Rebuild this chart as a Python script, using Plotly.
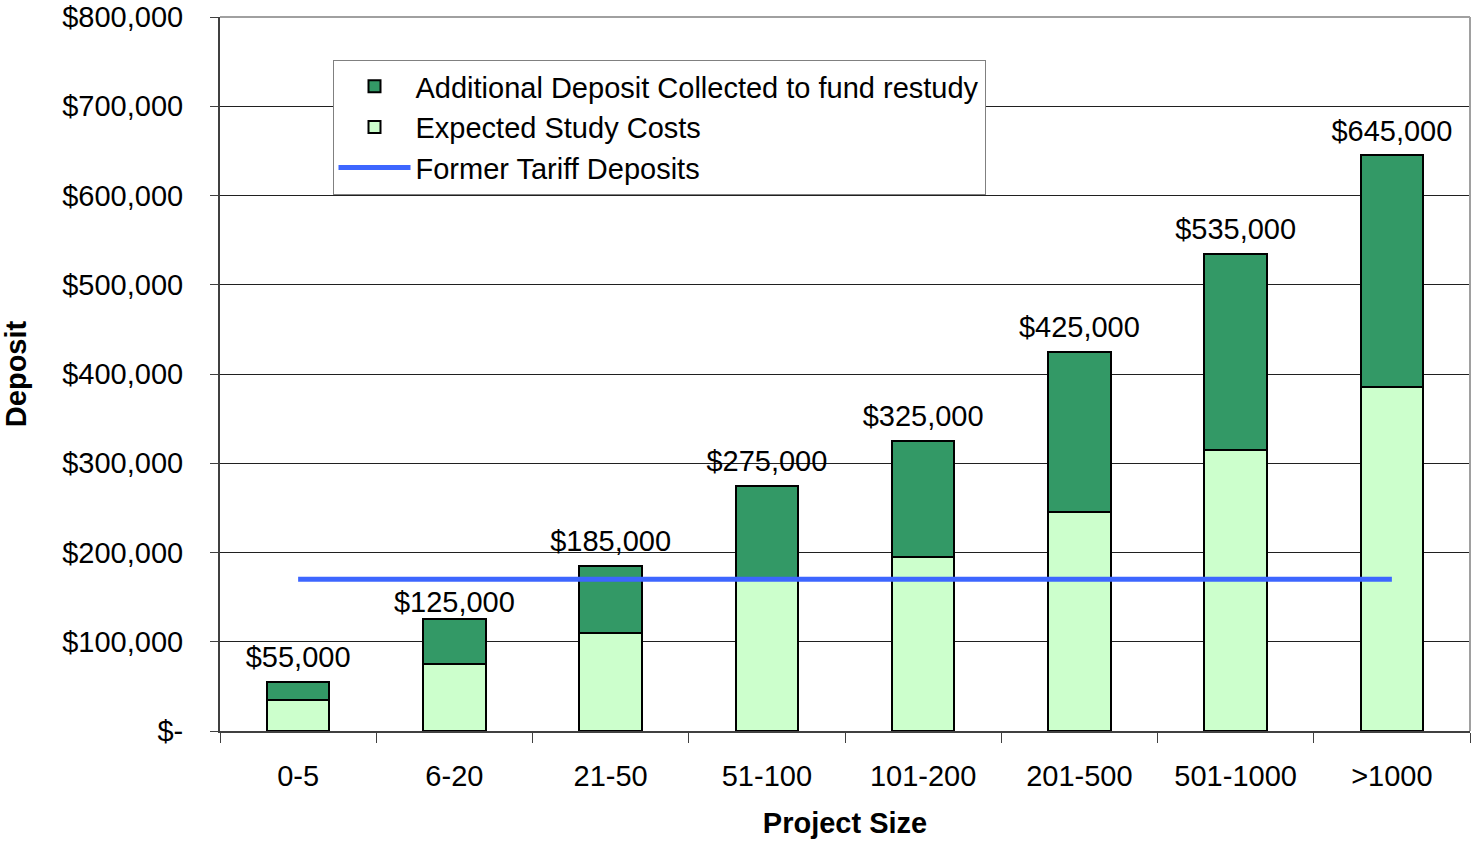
import plotly.graph_objects as go

categories = ['0-5', '6-20', '21-50', '51-100', '101-200', '201-500', '501-1000', '>1000']
study_costs = [35000, 75000, 110000, 170000, 195000, 245000, 315000, 385000]
totals = [55000, 125000, 185000, 275000, 325000, 425000, 535000, 645000]
additional = [t - s for t, s in zip(totals, study_costs)]
former_deposit = [170000] * len(categories)

y_ticks = [0, 100000, 200000, 300000, 400000, 500000, 600000, 700000, 800000]
y_labels = ['$-'] + ['${:,}'.format(v) for v in y_ticks[1:]]
total_labels = ['${:,}'.format(v) for v in totals]

font = 'Liberation Sans, Arial, sans-serif'
fs = 29

# the 6-20 label sits just under the blue line in the original
label_pad = [10, 0, 10, 10, 10, 10, 10, 10]

fig = go.Figure()
fig.add_trace(go.Bar(x=categories, y=study_costs, name='Expected Study Costs',
                     marker=dict(color='#CCFFCC', line=dict(color='black', width=2)),
                     width=0.4, legendrank=2))
fig.add_trace(go.Bar(x=categories, y=additional, name='Additional Deposit Collected to fund restudy',
                     marker=dict(color='#339966', line=dict(color='black', width=2)),
                     width=0.4, legendrank=1))
fig.add_trace(go.Scatter(x=categories, y=former_deposit, mode='lines', name='Former Tariff Deposits',
                         line=dict(color='#3D66FF', width=5), legendrank=3))
# totals above the stacks
fig.add_trace(go.Scatter(x=categories, y=totals, mode='markers+text', text=total_labels,
                         marker=dict(size=label_pad, opacity=0),
                         textposition='top center', textfont=dict(size=fs, color='black'),
                         showlegend=False, hoverinfo='skip'))

fig.update_layout(
    width=1473, height=841,
    barmode='stack',
    plot_bgcolor='white', paper_bgcolor='white',
    margin=dict(l=220, r=3, t=17, b=110),
    font=dict(family=font, size=fs, color='black'),
    legend=dict(x=0.09, y=0.94, xanchor='left', yanchor='top', traceorder='normal',
                bgcolor='white', bordercolor='#808080', borderwidth=1,
                font=dict(size=fs), tracegroupgap=0, itemwidth=72),
    xaxis=dict(title=dict(text='<b>Project Size</b>', font=dict(size=fs), standoff=22),
               showline=True, linecolor='#404040', linewidth=2, automargin=False,
               ticks='outside', tickson='boundaries', ticklen=10, tickcolor='#404040',
               ticklabelstandoff=18),
    yaxis=dict(title=dict(text='<b>Deposit</b>', font=dict(size=fs), standoff=41),
               range=[0, 800000], tickvals=y_ticks, ticktext=y_labels,
               showline=True, linecolor='#404040', linewidth=2, automargin=False,
               ticks='outside', ticklen=8, tickcolor='#404040',
               showgrid=True, gridcolor='#202020', gridwidth=1,
               ticklabelstandoff=21, zeroline=False),
)
fig.add_shape(type='line', xref='paper', yref='paper', x0=1, x1=1, y0=0, y1=1,
              line=dict(color='#A0A0A0', width=2))
fig.add_shape(type='line', xref='paper', yref='paper', x0=0, x1=1, y0=1, y1=1,
              line=dict(color='#A0A0A0', width=2))

# drop the default page margin so the figure sits at the window corner
fig.write_html('out.html', config={'displayModeBar': False},
               post_script="document.body.style.margin='0';")
